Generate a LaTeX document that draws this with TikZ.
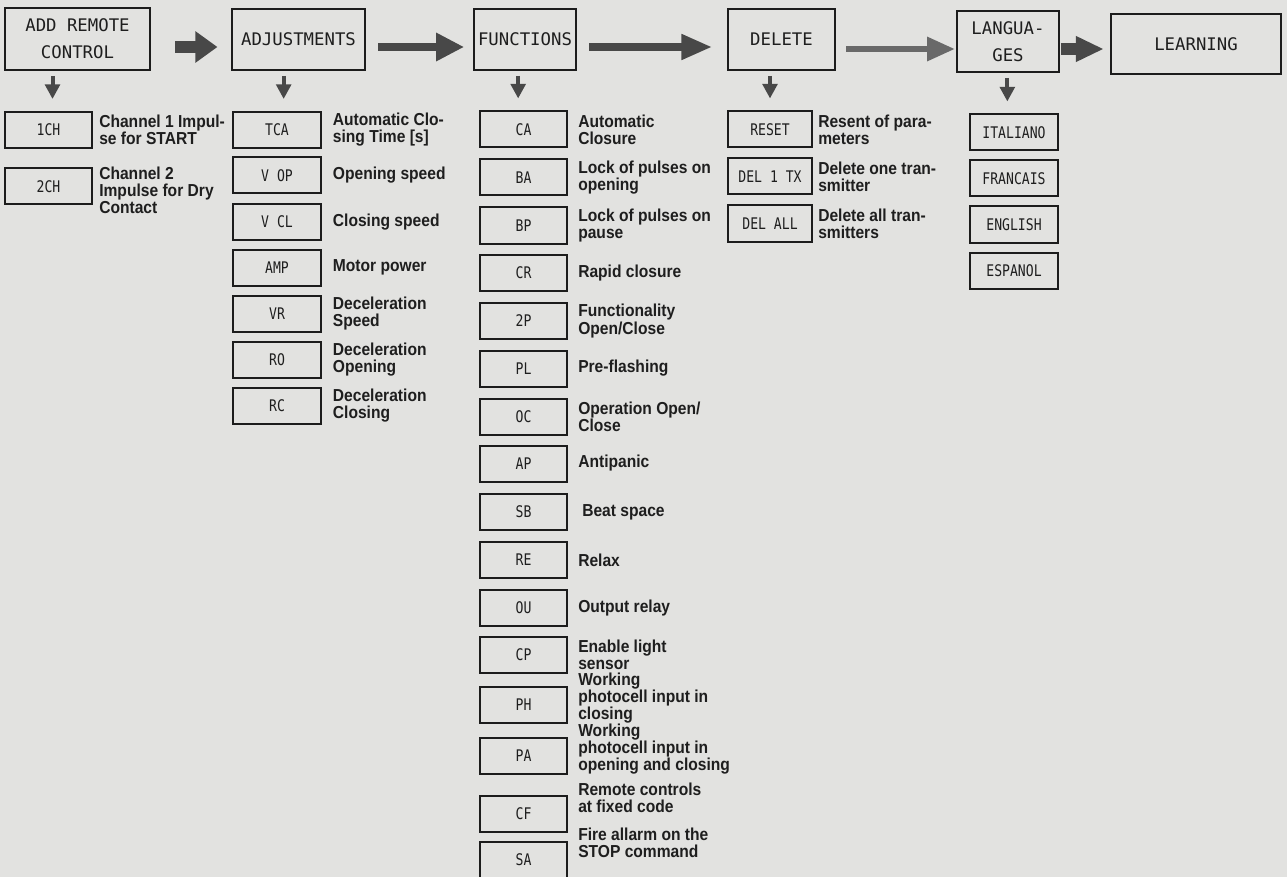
\documentclass[tikz,border=0pt]{standalone}
\usepackage{fontspec}
\setmainfont{Liberation Sans}
\newfontfamily\lcdfam{DejaVu Sans Mono}
\newfontfamily\lcdnar[FakeStretch=0.82]{DejaVu Sans Mono}
\newfontfamily\descfam[FakeStretch=0.9]{Liberation Sans}
\usetikzlibrary{arrows.meta}
\definecolor{bgc}{RGB}{226,226,224}
\definecolor{boxc}{RGB}{28,28,28}
\definecolor{txtc}{RGB}{30,30,30}
\definecolor{arrc}{RGB}{72,72,72}
\definecolor{arrl}{RGB}{105,105,105}
\newcommand\lcdtop{\lcdfam\fontsize{13pt}{20pt}\selectfont}
\newcommand\lcdsmall{\lcdnar\fontsize{12pt}{13pt}\selectfont}
\newcommand\descstyle{\descfam\bfseries\fontsize{13pt}{12.8pt}\selectfont}
\begin{document}
\begin{tikzpicture}[x=0.75pt,y=-0.75pt,
  topbox/.style={draw=boxc, line width=1.8pt, inner sep=0pt, font=\lcdtop, align=center, text=txtc},
  smallbox/.style={draw=boxc, line width=1.5pt, inner sep=0pt, font=\lcdsmall, text=txtc,
     minimum width=66pt, minimum height=27pt},
  desc/.style={anchor=west, inner sep=0pt, align=left, font=\descstyle, text=txtc},
  darr/.style={draw=arrc, line width=3pt, -{Triangle[length=11pt,width=11pt]},
     shorten <=3.5pt, shorten >=9pt},
  harr/.style={draw=arrc, line width=#1},
]
\fill[bgc] (0,0) rectangle (1287,877);
\useasboundingbox (0,0) rectangle (1287,877);
\coordinate (ay) at (0,47);
\coordinate (ay2) at (0,49);

% top row
\node[topbox, minimum width=108.75pt, minimum height=46.5pt] (add) at (77.5,39) {ADD REMOTE\\CONTROL};
\node[topbox, minimum width=99.75pt, minimum height=45.75pt] (adj) at (298.5,39.5) {ADJUSTMENTS};
\node[topbox, minimum width=76.5pt, minimum height=45.75pt] (func) at (525,39.5) {FUNCTIONS};
\node[topbox, minimum width=80.25pt, minimum height=45.75pt] (del) at (781.5,39.5) {DELETE};
\node[topbox, minimum width=76.5pt, minimum height=45.75pt] (lang) at (1008,41.5) {LANGUA-\\GES};
\node[topbox, minimum width=127.5pt, minimum height=45pt] (learn) at (1196,44) {LEARNING};

% horizontal arrows
\draw[harr=9pt, -{Triangle[length=16.5pt,width=22.5pt]}, shorten <=18pt, shorten >=10pt]
  (add.east |- ay) -- (adj.west |- ay);
\draw[harr=5.5pt, -{Triangle[length=21pt,width=20pt]}, shorten <=9pt, shorten >=6.5pt]
  (adj.east |- ay) -- (func.west |- ay);
\draw[harr=5.5pt, -{Triangle[length=23pt,width=18pt]}, shorten <=9pt, shorten >=11pt]
  (func.east |- ay) -- (del.west |- ay);
\draw[harr=5pt, draw=arrl, -{Triangle[length=21pt,width=17pt]}, shorten <=7.5pt, shorten >=0.5pt]
  (del.east |- ay2) -- (lang.west |- ay2);
\draw[harr=9pt, -{Triangle[length=21pt,width=18pt]}, shorten <=0.5pt, shorten >=4.5pt]
  (lang.east |- ay2) -- (learn.west |- ay2);

% column 1
\node[smallbox, minimum width=65.25pt] (ch1) at (48.5,130) {1CH};
\node[smallbox, minimum width=65.25pt] (ch2) at (48.5,186.5) {2CH};
\node[desc] (dch1) at ([xshift=4.5pt]ch1.east) {Channel 1 Impul-\\se for START};
\node[desc] (dch2) at ([xshift=4.5pt,yshift=-3pt]ch2.east) {Channel 2\\Impulse for Dry\\Contact};

% column 2
\node[smallbox] (tca) at (277,130) {TCA};
\node[smallbox] (vop) at (277,175.5) {V OP};
\node[smallbox] (vcl) at (277,222) {V CL};
\node[smallbox] (amp) at (277,267.5) {AMP};
\node[smallbox] (vr)  at (277,313.5) {VR};
\node[smallbox] (ro)  at (277,359.5) {RO};
\node[smallbox] (rc)  at (277,405.5) {RC};
\node[desc] (dtca) at ([xshift=8pt]tca.east) {Automatic Clo-\\sing Time [s]};
\node[desc] (dvop) at ([xshift=8pt]vop.east) {Opening speed};
\node[desc] (dvcl) at ([xshift=8pt]vcl.east) {Closing speed};
\node[desc] (damp) at ([xshift=8pt]amp.east) {Motor power};
\node[desc] (dvr)  at ([xshift=8pt]vr.east) {Deceleration\\Speed};
\node[desc] (dro)  at ([xshift=8pt]ro.east) {Deceleration\\Opening};
\node[desc] (drc)  at ([xshift=8pt]rc.east) {Deceleration\\Closing};

% column 3
\node[smallbox, minimum width=65.25pt] (ca)  at (523.5,129.5) {CA};
\node[smallbox, minimum width=65.25pt] (ba)  at (523.5,177.5) {BA};
\node[smallbox, minimum width=65.25pt] (bp)  at (523.5,225.5) {BP};
\node[smallbox, minimum width=65.25pt] (cr)  at (523.5,273) {CR};
\node[smallbox, minimum width=65.25pt] (tp)  at (523.5,321) {2P};
\node[smallbox, minimum width=65.25pt] (pl)  at (523.5,368.5) {PL};
\node[smallbox, minimum width=65.25pt] (oc)  at (523.5,416.5) {OC};
\node[smallbox, minimum width=65.25pt] (ap)  at (523.5,463.5) {AP};
\node[smallbox, minimum width=65.25pt] (sb)  at (523.5,512) {SB};
\node[smallbox, minimum width=65.25pt] (re)  at (523.5,560) {RE};
\node[smallbox, minimum width=65.25pt] (ou)  at (523.5,608) {OU};
\node[smallbox, minimum width=65.25pt] (cp)  at (523.5,655) {CP};
\node[smallbox, minimum width=65.25pt] (ph)  at (523.5,705) {PH};
\node[smallbox, minimum width=65.25pt] (pa)  at (523.5,755.5) {PA};
\node[smallbox, minimum width=65.25pt] (cf)  at (523.5,813.5) {CF};
\node[smallbox, minimum width=65.25pt] (sa)  at (523.5,859.5) {SA};
\node[desc] (dca) at ([xshift=7.5pt]ca.east) {Automatic\\Closure};
\node[desc] (dba) at ([xshift=7.5pt]ba.east) {Lock of pulses on\\opening};
\node[desc] (dbp) at ([xshift=7.5pt]bp.east) {Lock of pulses on\\pause};
\node[desc] (dcr) at ([xshift=7.5pt]cr.east) {Rapid closure};
\node[desc] (dtp) at ([xshift=7.5pt]tp.east) {Functionality\\Open/Close};
\node[desc] (dpl) at ([xshift=7.5pt]pl.east) {Pre-flashing};
\node[desc] (doc) at ([xshift=7.5pt]oc.east) {Operation Open/\\Close};
\node[desc] (dap) at ([xshift=7.5pt]ap.east) {Antipanic};
\node[desc] (dsb) at ([xshift=10.5pt]sb.east) {Beat space};
\node[desc] (dre) at ([xshift=7.5pt]re.east) {Relax};
\node[desc] (dou) at ([xshift=7.5pt]ou.east) {Output relay};
\node[desc] (dcp) at ([xshift=7.5pt]cp.east) {Enable light\\sensor};
\node[desc] (dph) at ([xshift=7.5pt,yshift=5pt]ph.east) {Working\\photocell input in\\closing};
\node[desc] (dpa) at ([xshift=7.5pt,yshift=5pt]pa.east) {Working\\photocell input in\\opening and closing};
\node[desc] (dcf) at ([xshift=7.5pt,yshift=12pt]cf.east) {Remote controls\\at fixed code};
\node[desc] (dsa) at ([xshift=7.5pt,yshift=12.5pt]sa.east) {Fire allarm on the\\STOP command};

% column 4
\node[smallbox, minimum width=63pt] (reset) at (770,129.5) {RESET};
\node[smallbox, minimum width=63pt] (delone) at (770,176.5) {DEL 1 TX};
\node[smallbox, minimum width=63pt] (delall) at (770,223.5) {DEL ALL};
\node[desc] (dreset) at ([xshift=3.75pt]reset.east) {Resent of para-\\meters};
\node[desc] (ddelone) at ([xshift=3.75pt]delone.east) {Delete one tran-\\smitter};
\node[desc] (ddelall) at ([xshift=3.75pt]delall.east) {Delete all tran-\\smitters};

% column 5
\node[smallbox] (ita) at (1014,132.5) {ITALIANO};
\node[smallbox] (fra) at (1014,178.5) {FRANCAIS};
\node[smallbox] (eng) at (1014,224.5) {ENGLISH};
\node[smallbox] (esp) at (1014,270.5) {ESPANOL};

% down arrows
\draw[darr] ([xshift=3pt]add.south -| ch1.north) -- ([xshift=3pt]ch1.north);
\draw[darr] ([xshift=5pt]adj.south -| tca.north) -- ([xshift=5pt]tca.north);
\draw[darr] ([xshift=-4pt]func.south -| ca.north) -- ([xshift=-4pt]ca.north);
\draw[darr] (del.south -| reset.north) -- (reset.north);
\draw[darr] ([xshift=-5pt]lang.south -| ita.north) -- ([xshift=-5pt]ita.north);
\end{tikzpicture}
\end{document}
